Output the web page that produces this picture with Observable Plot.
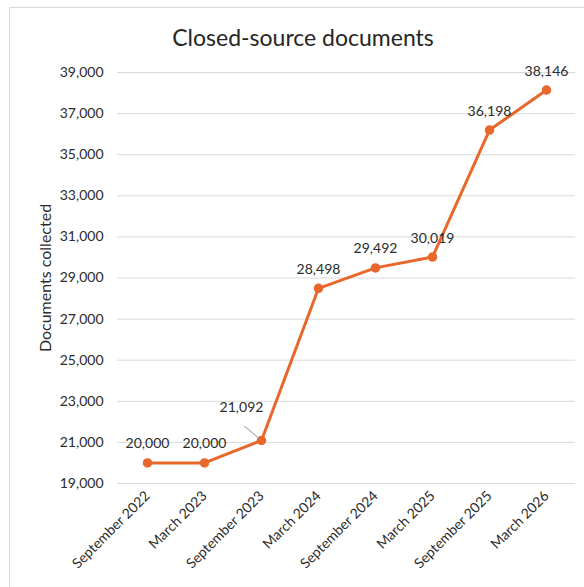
<!DOCTYPE html>
<html>
<head>
<meta charset="utf-8">
<script src="https://cdn.jsdelivr.net/npm/d3@7"></script>
<script src="https://cdn.jsdelivr.net/npm/@observablehq/plot@0.6"></script>
<style>
  html, body { margin: 0; padding: 0; background: #fff; }
  body { width: 584px; height: 587px; overflow: hidden; position: relative; font-family: Lato, "Open Sans", sans-serif; }
  #frame { position: absolute; left: 9px; top: 7px; width: 600px; height: 600px; border: 1px solid #d9d9d9; box-sizing: border-box; }
  #title { position: absolute; left: 0; top: 23px; width: 606px; text-align: center; font-size: 23px; color: #262626; line-height: 28px; }
  #chart { position: absolute; left: 0; top: 50px; }
</style>
</head>
<body>
<div id="frame"></div>
<div id="title">Closed-source documents</div>
<div id="chart"></div>
<script>
const periods = ["September 2022", "March 2023", "September 2023", "March 2024", "September 2024", "March 2025", "September 2025", "March 2026"];
const documents = [20000, 20000, 21092, 28498, 29492, 30019, 36198, 38146];
const yTicks = [19000, 21000, 23000, 25000, 27000, 29000, 31000, 33000, 35000, 37000, 39000];

const data = periods.map((p, i) => ({period: p, value: documents[i]}));
const fmt = d3.format(",");
const orange = "#E8682C";
const ink = "#2b2b2b";

const normal = data.filter(d => d.period !== "September 2023");
const callout = data.filter(d => d.period === "September 2023");

const chart = Plot.plot({
  width: 584,
  height: 537,
  marginLeft: 117,
  marginRight: 9,
  marginTop: 22,
  marginBottom: 104,
  style: {fontFamily: "Lato, 'Open Sans', sans-serif", fontSize: "14px", color: ink, background: "transparent"},
  x: {type: "point", domain: periods, padding: 0.5, label: null, tickSize: 0, tickRotate: -45, tickPadding: 10},
  y: {domain: [19000, 39000], ticks: yTicks, tickFormat: fmt, label: "Documents collected", labelAnchor: "center", labelArrow: "none", tickSize: 0, tickPadding: 14, labelOffset: 78},
  marks: [
    Plot.gridY(yTicks, {stroke: "#d9d9d9", strokeOpacity: 1, strokeWidth: 1}),
    Plot.line(data, {x: "period", y: "value", stroke: orange, strokeWidth: 3}),
    Plot.dot(data, {x: "period", y: "value", fill: orange, stroke: orange, r: 4}),
    Plot.text(normal, {x: "period", y: "value", text: d => fmt(d.value), dy: -19, fill: ink, fontSize: 14}),
    Plot.vector(callout, {x: "period", y: "value", length: 22, rotate: -50, anchor: "start", stroke: "#a6a6a6", strokeWidth: 1,
      shape: {draw(context, l) { context.moveTo(0, -4); context.lineTo(0, -l); }}}),
    Plot.text(callout, {x: "period", y: "value", text: d => fmt(d.value), dx: -20, dy: -33, fill: ink, fontSize: 14})
  ]
});
chart.querySelectorAll('g[aria-label="y-axis tick label"] text, g[aria-label="x-axis tick label"] text').forEach(t => t.setAttribute("fill", ink));
const yl = chart.querySelector('g[aria-label="y-axis label"] text');
if (yl) yl.setAttribute("font-size", "16px");
document.getElementById("chart").appendChild(chart);
</script>
</body>
</html>
